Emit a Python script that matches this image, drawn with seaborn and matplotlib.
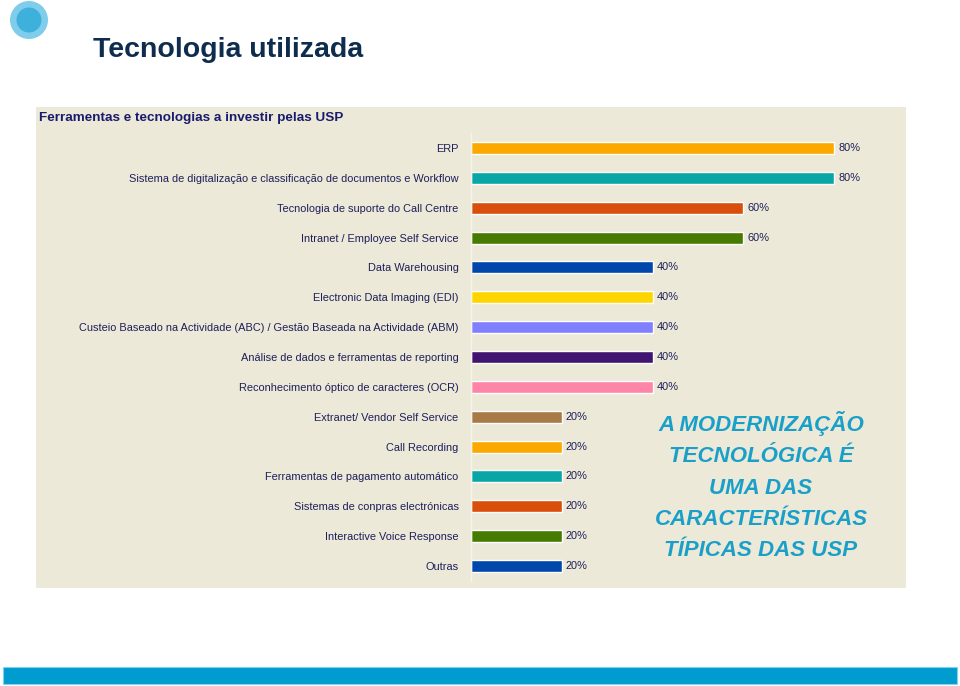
import matplotlib
matplotlib.use("Agg")
import matplotlib.pyplot as plt
from matplotlib import font_manager
from matplotlib.patches import Rectangle, Ellipse
import seaborn as sns
import pandas as pd

categories = [
    "ERP",
    "Sistema de digitalização e classificação de documentos e Workflow",
    "Tecnologia de suporte do Call Centre",
    "Intranet / Employee Self Service",
    "Data Warehousing",
    "Electronic Data Imaging (EDI)",
    "Custeio Baseado na Actividade (ABC) / Gestão Baseada na Actividade (ABM)",
    "Análise de dados e ferramentas de reporting",
    "Reconhecimento óptico de caracteres (OCR)",
    "Extranet/ Vendor Self Service",
    "Call Recording",
    "Ferramentas de pagamento automático",
    "Sistemas de conpras electrónicas",
    "Interactive Voice Response",
    "Outras",
]
values = [80, 80, 60, 60, 40, 40, 40, 40, 40, 20, 20, 20, 20, 20, 20]
colors = ["#FBA800", "#0AA6A6", "#D94E0A", "#467A00", "#0047AB", "#FFD500",
          "#8080FF", "#411472", "#FF85A8", "#A87A45", "#FBA800", "#0AA6A6",
          "#D94E0A", "#467A00", "#0047AB"]
title = "Tecnologia utilizada"
subtitle = "Ferramentas e tecnologias a investir pelas USP"
callout = "A MODERNIZAÇÃO\nTECNOLÓGICA É\nUMA DAS\nCARACTERÍSTICAS\nTÍPICAS DAS USP"

names = {f.name for f in font_manager.fontManager.ttflist}
narrow = "Liberation Sans Narrow" if "Liberation Sans Narrow" in names else "Liberation Sans"
lab_size = 9.5 if narrow == "Liberation Sans Narrow" else 7.9

sns.set_theme(style="white")
plt.rcParams["font.family"] = ["Liberation Sans", "DejaVu Sans"]

W, H = 960, 686
fig = plt.figure(figsize=(9.6, 6.86), dpi=100)
fig.patch.set_facecolor("white")

def fx(px):
    return px / W

def fy(py):
    return 1 - py / H

# panel background
fig.patches.append(Rectangle((fx(36), fy(588)), fx(906) - fx(36), fy(107) - fy(588),
                             transform=fig.transFigure, facecolor="#ECE9D8",
                             edgecolor="none", zorder=-5))
# bottom band
fig.patches.append(Rectangle((fx(3), fy(684)), fx(957) - fx(3), fy(667) - fy(684),
                             transform=fig.transFigure, facecolor="#009BCF",
                             edgecolor="#7FD3EE", linewidth=0.8, zorder=-5))
# circle decoration
fig.patches.append(Ellipse((fx(29), fy(20)), 38 / W, 38 / H, transform=fig.transFigure,
                           facecolor="#7FCDEA", edgecolor="none", zorder=-4))
fig.patches.append(Ellipse((fx(29), fy(20)), 25 / W, 25 / H, transform=fig.transFigure,
                           facecolor="#3DB0DC", edgecolor="none", zorder=-3))

fig.text(fx(93), fy(50), title, fontsize=20.5, fontweight="bold", color="#0E2D4E",
         va="center", ha="left")
fig.text(fx(39), fy(118), subtitle, fontsize=9.7, fontweight="bold", color="#1A1A6E",
         va="center", ha="left")

ax = fig.add_axes([fx(471), fy(581), fx(906) - fx(471), fy(133) - fy(581)])
ax.set_facecolor("none")
df = pd.DataFrame({"cat": categories, "val": values})
sns.barplot(data=df, x="val", y="cat", hue="cat", palette=colors, legend=False,
            width=0.4, orient="h", ax=ax, saturation=1)
ax.set_xlim(0, 435 / 4.54)
ax.set_xticks([])
ax.set_xlabel("")
ax.set_ylabel("")
ax.set_yticks(range(len(categories)), labels=categories, fontfamily=narrow,
              fontsize=lab_size, color="#1F1F5A")
for s in ["top", "right", "bottom"]:
    ax.spines[s].set_visible(False)
ax.spines["left"].set_color("#F6F4EC")
ax.spines["left"].set_linewidth(1.0)
ax.tick_params(axis="y", length=0, pad=9)
for i, v in enumerate(values):
    ax.text(v + 0.9, i, f"{v}%", va="center", ha="left", fontsize=lab_size,
            color="#1F1F5A", family=narrow)

fig.text(fx(761), fy(486), callout, fontsize=16, fontweight="bold", style="italic",
         color="#1AA0C8", ha="center", va="center", linespacing=1.64)

fig.savefig("out.png", dpi=100)
